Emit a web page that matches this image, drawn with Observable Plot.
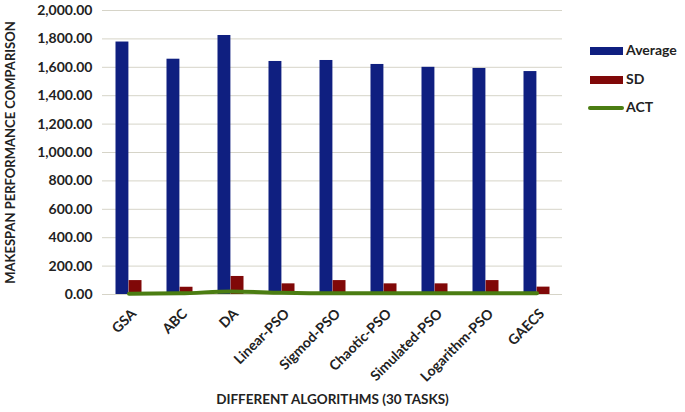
<!DOCTYPE html>
<html>
<head>
<meta charset="utf-8">
<script src="https://cdn.jsdelivr.net/npm/d3@7"></script>
<script src="https://cdn.jsdelivr.net/npm/@observablehq/plot@0.6"></script>
<style>
  body { margin: 0; background: #fff; }
  #wrap { position: relative; width: 685px; height: 412px; font-family: Lato, "Open Sans", sans-serif; }
  .leg { position: absolute; font-size: 14px; font-weight: 700; color: #222; }
  .sw { position: absolute; }
</style>
</head>
<body>
<div id="wrap"></div>
<script>
const categories = ["GSA", "ABC", "DA", "Linear-PSO", "Sigmod-PSO", "Chaotic-PSO", "Simulated-PSO", "Logarithm-PSO", "GAECS"];
const average = [1778, 1657, 1824, 1641, 1648, 1620, 1600, 1592, 1570];
const sd = [98, 51, 127, 75, 98, 75, 75, 98, 52];
const act = [6, 8, 22, 12, 8, 8, 8, 8, 8];
const yTicks = [0, 200, 400, 600, 800, 1000, 1200, 1400, 1600, 1800, 2000];

const rows = categories.map((c, i) => ({cat: c, average: average[i], sd: sd[i], act: act[i]}));
const fmt = d3.format(",.2f");

const chart = Plot.plot({
  width: 685,
  height: 412,
  marginLeft: 102,
  marginRight: 123,
  marginTop: 10,
  marginBottom: 118,
  style: {fontFamily: "Lato, 'Open Sans', sans-serif", fontSize: "13px", fontWeight: 700, color: "#222", background: "transparent"},
  x: {domain: categories, padding: 0, label: null},
  y: {domain: [0, 2000], ticks: yTicks, label: null},
  marks: [
    Plot.ruleY(yTicks, {stroke: "#d6d4c8", strokeWidth: 1}),
    Plot.axisY({ticks: yTicks, tickFormat: fmt, tickSize: 0, tickPadding: 10, fontSize: 14, fontWeight: 700, label: null}),
    Plot.axisX({tickSize: 0, tickRotate: -45, tickPadding: 17, fontSize: 14, fontWeight: 700, label: null, dx: 5}),
    Plot.barY(rows, {x: "cat", y: "average", fill: "#0f1f80", insetLeft: 12.5, insetRight: 25.6}),
    Plot.barY(rows, {x: "cat", y: "sd", fill: "#800808", insetLeft: 25.6, insetRight: 12.5}),
    Plot.lineY(rows, {x: "cat", y: "act", stroke: "#4b7d12", strokeWidth: 4, curve: "monotone-x"}),
    Plot.text(["MAKESPAN PERFORMANCE COMPARISON"], {frameAnchor: "left", dx: -92, rotate: -90, textAnchor: "middle", fontSize: 13, fontWeight: 700}),
    Plot.text(["DIFFERENT ALGORITHMS (30 TASKS)"], {frameAnchor: "bottom", dy: 109, fontSize: 13.5, fontWeight: 700})
  ]
});
const wrap = document.getElementById("wrap");
wrap.appendChild(chart);

const legend = [
  {name: "Average", color: "#0f1f80", kind: "rect", y: 51},
  {name: "SD", color: "#800808", kind: "rect", y: 80},
  {name: "ACT", color: "#4b7d12", kind: "line", y: 108}
];
for (const l of legend) {
  const sw = document.createElement("div");
  sw.className = "sw";
  if (l.kind === "rect") {
    Object.assign(sw.style, {left: "590px", top: (l.y - 4) + "px", width: "33px", height: "8px", background: l.color});
  } else {
    Object.assign(sw.style, {left: "588px", top: (l.y - 2) + "px", width: "36px", height: "4px", background: l.color, borderRadius: "2px"});
  }
  wrap.appendChild(sw);
  const t = document.createElement("div");
  t.className = "leg";
  t.textContent = l.name;
  Object.assign(t.style, {left: "626px", top: (l.y - 10) + "px"});
  wrap.appendChild(t);
}
</script>
</body>
</html>
